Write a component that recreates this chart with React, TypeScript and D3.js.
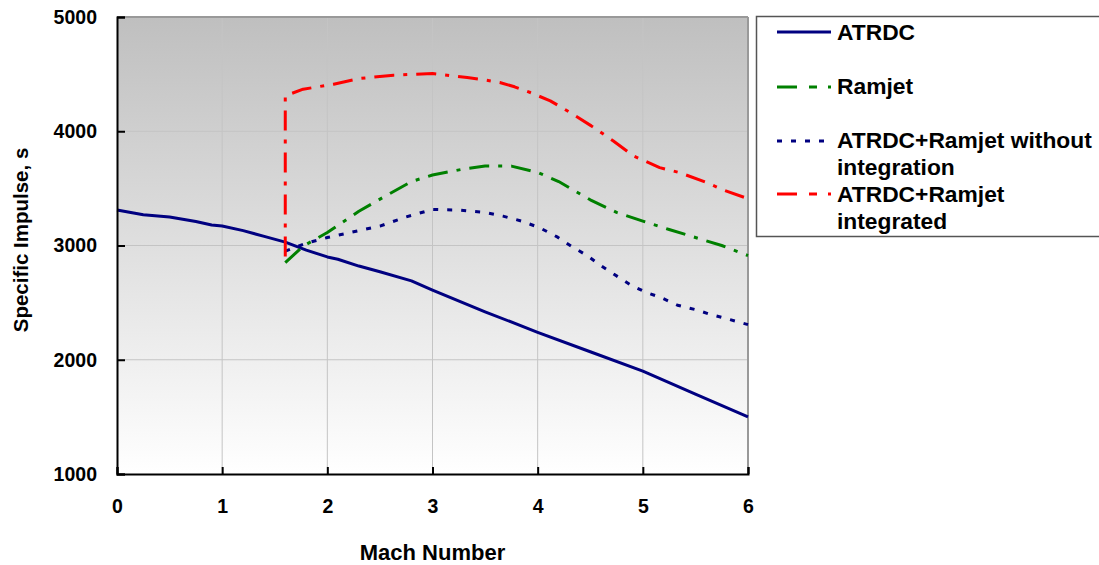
import React, { useEffect, useRef } from "react";
import * as d3 from "d3";

// values
const atrdcMach = [0, 0.25, 0.5, 0.75, 0.9, 1.0, 1.2, 1.4, 1.6, 1.8, 2.0, 2.1, 2.3, 2.5, 2.8, 3.0, 3.5, 4.0, 4.5, 5.0, 5.5, 6.0];
const atrdcIsp = [3310, 3270, 3250, 3210, 3180, 3170, 3130, 3080, 3030, 2960, 2900, 2880, 2820, 2770, 2690, 2610, 2420, 2240, 2070, 1900, 1700, 1500];

const ramjetMach = [1.6, 1.77, 2.0, 2.3, 2.55, 2.8, 3.0, 3.3, 3.5, 3.75, 4.0, 4.2, 4.5, 4.75, 5.0, 5.25, 5.5, 5.75, 6.0];
const ramjetIsp = [2850, 2994, 3114, 3300, 3432, 3560, 3617, 3670, 3695, 3695, 3640, 3560, 3400, 3290, 3213, 3140, 3070, 3000, 2912];

const withoutMach = [1.6, 1.8, 2.0, 2.25, 2.5, 2.75, 3.0, 3.25, 3.5, 3.67, 3.85, 4.02, 4.19, 4.32, 4.47, 4.61, 4.73, 4.89, 5.02, 5.18, 5.33, 5.5, 5.65, 5.83, 6.0];
const withoutIsp = [2950, 3020, 3070, 3120, 3170, 3250, 3316, 3310, 3290, 3257, 3213, 3155, 3073, 2994, 2912, 2819, 2746, 2652, 2594, 2541, 2477, 2439, 2395, 2351, 2307];

const integratedMach = [1.6, 1.6, 1.77, 2.06, 2.31, 2.63, 3.0, 3.33, 3.51, 3.64, 3.78, 3.93, 4.12, 4.31, 4.51, 4.72, 4.91, 5.16, 5.35, 5.61, 5.75, 6.0];
const integratedIsp = [2904, 4310, 4368, 4412, 4462, 4491, 4505, 4470, 4447, 4427, 4389, 4339, 4266, 4164, 4047, 3915, 3784, 3682, 3638, 3550, 3491, 3410];

const xTicks = [0, 1, 2, 3, 4, 5, 6];
const yTicks = [1000, 2000, 3000, 4000, 5000];

const legendLabels = [
  ["ATRDC"],
  ["Ramjet"],
  ["ATRDC+Ramjet without", "integration"],
  ["ATRDC+Ramjet", "integrated"],
];

const W = 1099;
const H = 565;
const left = 117, right = 748, top = 17, bottom = 474;
const font = "'Liberation Sans', Arial, sans-serif";

export default function App() {
  const svgRef = useRef<SVGSVGElement>(null);

  useEffect(() => {
    const svg = d3.select(svgRef.current);
    svg.selectAll("*").remove();

    const x = d3.scaleLinear().domain([0, 6]).range([left, right]);
    const y = d3.scaleLinear().domain([1000, 5000]).range([bottom, top]);

    const defs = svg.append("defs");
    const grad = defs.append("linearGradient").attr("id", "bg").attr("x1", 0).attr("y1", 0).attr("x2", 0).attr("y2", 1);
    grad.append("stop").attr("offset", "0%").attr("stop-color", "#bfbfbf");
    grad.append("stop").attr("offset", "100%").attr("stop-color", "#ffffff");

    svg.append("rect")
      .attr("x", left).attr("y", top)
      .attr("width", right - left).attr("height", bottom - top)
      .attr("fill", "url(#bg)");

    // grid
    svg.append("g").selectAll("line")
      .data(xTicks.slice(1, -1))
      .join("line")
      .attr("x1", d => x(d)).attr("x2", d => x(d))
      .attr("y1", top).attr("y2", bottom)
      .attr("stroke", "#c4c4c4").attr("stroke-width", 1);
    svg.append("g").selectAll("line")
      .data(yTicks.slice(1, -1))
      .join("line")
      .attr("x1", left).attr("x2", right)
      .attr("y1", d => y(d)).attr("y2", d => y(d))
      .attr("stroke", "#c4c4c4").attr("stroke-width", 1);

    // frame: gray top/right
    svg.append("line").attr("x1", left).attr("x2", right).attr("y1", top).attr("y2", top)
      .attr("stroke", "#999").attr("stroke-width", 2);
    svg.append("line").attr("x1", right).attr("x2", right).attr("y1", top).attr("y2", bottom)
      .attr("stroke", "#999").attr("stroke-width", 2);

    const series = [
      { mach: atrdcMach, isp: atrdcIsp, color: "#000080", dash: null, legendDash: null },
      { mach: ramjetMach, isp: ramjetIsp, color: "#008000", dash: "20,9,4,9", legendDash: "20,12,8,11" },
      { mach: withoutMach, isp: withoutIsp, color: "#000080", dash: "5,9", legendDash: "5,9" },
      { mach: integratedMach, isp: integratedIsp, color: "#ff0000", dash: "20,9,4,9", legendDash: "20,12,8,11" },
    ];

    const line = d3.line<[number, number]>().x(d => x(d[0])).y(d => y(d[1]));

    series.forEach(s => {
      const pts = s.mach.map((m, i) => [m, s.isp[i]] as [number, number]);
      svg.append("path")
        .attr("d", line(pts))
        .attr("fill", "none")
        .attr("stroke", s.color)
        .attr("stroke-width", 3)
        .attr("stroke-dasharray", s.dash)
        .attr("stroke-linejoin", "round");
    });

    // axes
    const xAxis = svg.append("g").attr("transform", `translate(0,${bottom})`)
      .call(d3.axisBottom(x).tickValues(xTicks).tickSize(-7).tickPadding(25).tickFormat(d3.format("d")));
    xAxis.select(".domain").attr("stroke", "#000").attr("stroke-width", 2);
    xAxis.selectAll(".tick line").attr("stroke", "#000").attr("stroke-width", 2);
    xAxis.selectAll("text").attr("font-family", font).attr("font-size", 19.5).attr("font-weight", "bold").attr("fill", "#000");

    const yAxis = svg.append("g").attr("transform", `translate(${left},0)`)
      .call(d3.axisLeft(y).tickValues(yTicks).tickSize(-8).tickPadding(20).tickFormat(d3.format("d")));
    yAxis.select(".domain").attr("stroke", "#000").attr("stroke-width", 2);
    yAxis.selectAll(".tick line").attr("stroke", "#000").attr("stroke-width", 2);
    yAxis.selectAll("text").attr("font-family", font).attr("font-size", 19.5).attr("font-weight", "bold").attr("fill", "#000");

    svg.append("text")
      .attr("x", x(3)).attr("y", 560)
      .attr("text-anchor", "middle")
      .attr("font-family", font).attr("font-size", 22).attr("font-weight", "bold")
      .text("Mach Number");

    svg.append("text")
      .attr("transform", `translate(28,240) rotate(-90)`)
      .attr("text-anchor", "middle")
      .attr("font-family", font).attr("font-size", 20.5).attr("font-weight", "bold")
      .text("Specific Impulse, s");

    // legend
    svg.append("rect")
      .attr("x", 756.5).attr("y", 16.5).attr("width", 360).attr("height", 220)
      .attr("fill", "#fff").attr("stroke", "#555").attr("stroke-width", 1.5);

    const legendLineY = [32, 87, 141, 194];
    const legendBase = [40, 94, 148, 202];
    legendLabels.forEach((lines, i) => {
      const s = series[i];
      svg.append("line")
        .attr("x1", 777).attr("x2", 831).attr("y1", legendLineY[i]).attr("y2", legendLineY[i])
        .attr("stroke", s.color).attr("stroke-width", 3)
        .attr("stroke-dasharray", s.legendDash);
      const t = svg.append("text")
        .attr("font-family", font).attr("font-size", 22.8).attr("font-weight", "bold");
      lines.forEach((l, j) => {
        t.append("tspan").attr("x", 837).attr("y", legendBase[i] + j * 26.5).text(l);
      });
    });
  }, []);

  return (
    <svg
      ref={svgRef}
      width={W}
      height={H}
      style={{ position: "absolute", left: 0, top: 0, background: "#fff" }}
    />
  );
}
